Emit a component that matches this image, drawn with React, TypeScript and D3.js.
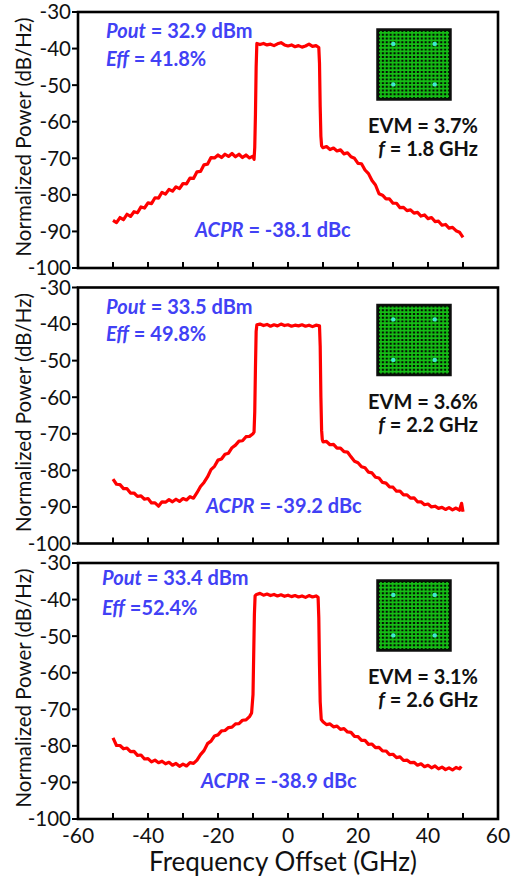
import React from "react";
import * as d3 from "d3";

// ---------- data ----------
const yTicks = [-30, -40, -50, -60, -70, -80, -90, -100];
const xTickLabels = [-60, -40, -20, 0, 20, 40, 60];
const xInnerTicks = [-50, -40, -30, -20, -10, 0, 10, 20, 30, 40, 50];

const spectrum18: [number, number][] = [
  [-50, -87.0], [-49, -87.6], [-48, -86.2], [-47, -86.8], [-46, -85.3], [-45, -85.9], [-44, -84.6], [-43, -84.9],
  [-42, -83.3], [-41, -83.6], [-40, -82.2], [-39, -82.4], [-38, -80.8], [-37, -80.9], [-36, -79.3], [-35, -79.8],
  [-34, -78.5], [-33, -79.0], [-32, -77.8], [-31, -78.3], [-30, -76.9], [-29, -77.0], [-28, -75.4], [-27, -75.5],
  [-26, -73.7], [-25, -73.6], [-24, -71.8], [-23, -71.6], [-22, -69.8], [-21, -69.9], [-20, -69.1], [-19, -69.8],
  [-18, -68.9], [-17, -69.5], [-16, -68.7], [-15, -69.6], [-14, -68.9], [-13, -69.8], [-12, -69.1], [-11, -69.9],
  [-10, -69.4], [-9.7, -70.3], [-9.5, -67], [-9.3, -58], [-9.1, -45], [-8.9, -38.6],
  [-8, -38.9], [-7, -38.6], [-6, -39.0], [-5, -38.8], [-4, -39.2], [-3, -38.7], [-2, -38.4], [-1, -39.0], [0, -39.3],
  [1, -39.0], [2, -39.5], [3, -39.2], [4, -39.6], [5, -39.3], [6, -38.8], [7, -39.4], [8, -39.2], [8.8, -39.7],
  [9.0, -44], [9.2, -56], [9.4, -64], [9.6, -66.6],
  [10, -67.1], [11, -66.8], [12, -67.6], [13, -67.2], [14, -68.0], [15, -67.7], [16, -68.8], [17, -68.5],
  [18, -69.6], [19, -70.0], [20, -71.4], [21, -71.5], [22, -73.2], [23, -74.2], [24, -76.1], [25, -77.3],
  [26, -79.7], [27, -80.1], [28, -81.1], [29, -81.1], [30, -82.3], [31, -82.3], [32, -83.5], [33, -83.4],
  [34, -84.3], [35, -84.1], [36, -85.0], [37, -84.8], [38, -85.8], [39, -85.5], [40, -86.5], [41, -86.2],
  [42, -87.3], [43, -87.2], [44, -88.3], [45, -88.1], [46, -89.1], [47, -88.9], [48, -89.8], [49, -90.2], [50, -91.6],
];

const spectrum22: [number, number][] = [
  [-50, -82.4], [-49, -83.8], [-48, -83.9], [-47, -85.0], [-46, -85.0], [-45, -86.2], [-44, -86.2], [-43, -87.1],
  [-42, -87.0], [-41, -87.9], [-40, -87.7], [-39, -88.9], [-38, -88.9], [-37, -89.8], [-36, -88.6], [-35, -88.7],
  [-34, -88.0], [-33, -88.6], [-32, -87.9], [-31, -88.5], [-30, -87.7], [-29, -88.1], [-28, -87.2], [-27, -87.6],
  [-26, -86.1], [-25, -84.4], [-24, -83.3], [-23, -81.8], [-22, -79.8], [-21, -78.9], [-20, -77.2], [-19, -76.9],
  [-18, -75.6], [-17, -75.3], [-16, -73.8], [-15, -73.1], [-14, -72.0], [-13, -71.9], [-12, -70.8], [-11, -70.7],
  [-10, -70.0], [-9.7, -69.5], [-9.5, -64], [-9.3, -52], [-9.1, -42], [-8.9, -40.2],
  [-8, -40.0], [-7, -40.4], [-6, -40.1], [-5, -40.6], [-4, -40.2], [-3, -40.5], [-2, -40.0], [-1, -40.4], [0, -40.2],
  [1, -40.6], [2, -40.3], [3, -40.5], [4, -40.2], [5, -40.6], [6, -40.3], [7, -40.7], [8, -40.3], [9.0, -40.5],
  [9.2, -46], [9.4, -60], [9.6, -69], [9.8, -71.6],
  [10, -72.2], [11, -72.1], [12, -73.0], [13, -72.9], [14, -73.9], [15, -73.9], [16, -74.9], [17, -75.0],
  [18, -76.3], [19, -77.5], [20, -77.9], [21, -79.0], [22, -79.3], [23, -80.5], [24, -80.7], [25, -81.9],
  [26, -82.1], [27, -83.3], [28, -83.5], [29, -84.5], [30, -84.6], [31, -85.7], [32, -85.7], [33, -86.7],
  [34, -86.7], [35, -87.6], [36, -87.5], [37, -88.6], [38, -88.6], [39, -89.4], [40, -89.2], [41, -90.0],
  [42, -89.8], [43, -90.4], [44, -90.1], [45, -90.7], [46, -90.2], [47, -90.8], [48, -90.3], [49, -90.9],
  [49.6, -89.0], [50, -91.3],
];

const spectrum26: [number, number][] = [
  [-50, -77.8], [-49, -79.9], [-48, -79.9], [-47, -80.8], [-46, -80.6], [-45, -81.6], [-44, -81.5], [-43, -82.6],
  [-42, -82.5], [-41, -83.6], [-40, -83.5], [-39, -84.4], [-38, -83.9], [-37, -84.6], [-36, -84.2], [-35, -84.9],
  [-34, -84.5], [-33, -85.3], [-32, -84.8], [-31, -85.6], [-30, -85.0], [-29, -85.5], [-28, -84.6], [-27, -84.8],
  [-26, -83.9], [-25, -82.4], [-24, -81.3], [-23, -79.4], [-22, -78.7], [-21, -77.3], [-20, -77.0], [-19, -75.9],
  [-18, -75.8], [-17, -75.0], [-16, -74.9], [-15, -74.0], [-14, -73.9], [-13, -73.0], [-12, -72.9], [-11, -72.0],
  [-10.4, -71.0], [-10, -66], [-9.8, -55], [-9.6, -44], [-9.4, -39.0],
  [-9, -38.6], [-8, -38.3], [-7, -38.8], [-6, -38.5], [-5, -38.9], [-4, -38.6], [-3, -39.0], [-2, -38.7], [-1, -39.1],
  [0, -38.8], [1, -39.2], [2, -38.9], [3, -39.3], [4, -39.0], [5, -39.4], [6, -38.9], [7, -39.3], [8, -39.0], [8.6, -39.4],
  [8.8, -45], [9.0, -58], [9.2, -68], [9.5, -72.8],
  [10, -73.4], [11, -74.2], [12, -74.0], [13, -74.8], [14, -74.6], [15, -75.5], [16, -75.3], [17, -76.2],
  [18, -76.3], [19, -77.4], [20, -77.5], [21, -78.5], [22, -78.5], [23, -79.6], [24, -79.5], [25, -80.5],
  [26, -80.4], [27, -81.4], [28, -81.4], [29, -82.4], [30, -82.3], [31, -83.2], [32, -83.0], [33, -84.0],
  [34, -83.9], [35, -84.6], [36, -84.5], [37, -85.3], [38, -84.9], [39, -85.7], [40, -85.3], [41, -86.0],
  [42, -85.5], [43, -86.3], [44, -85.8], [45, -86.5], [46, -86.0], [47, -86.6], [48, -85.9], [49, -86.3], [49.5, -85.6],
];

const spectra = [spectrum18, spectrum22, spectrum26];
const poutLabels = ["32.9 dBm", "33.5 dBm", "33.4 dBm"];
const effLabels = [" = 41.8%", " = 49.8%", " =52.4%"];
const acprLabels = ["-38.1 dBc", "-39.2 dBc", "-38.9 dBc"];
const evmLabels = ["3.7%", "3.6%", "3.1%"];
const freqLabels = ["1.8 GHz", "2.2 GHz", "2.6 GHz"];

// ---------- layout ----------
const W = 511;
const H = 877;
const L = 78;
const R = 498;
const panelTops = [12, 287.5, 563];
const PH = 256;
const poutY = [26, 26, 22];
const effY = [54, 53, 52];
const textX = [106, 106, 102];
const acprX = [195, 206, 201];
const BLUE = "#4141f5";
const FONT = "Lato, 'Open Sans', sans-serif";
const ANN = 20;

const x = d3.scaleLinear().domain([-60, 60]).range([L, R]);

function Constellation({ x0, y0, w, h }: { x0: number; y0: number; w: number; h: number }) {
  const n = 18;
  const vs = d3.range(n).map((i) => x0 + 2 + (i + 0.5) * ((w - 4) / n));
  const hs = d3.range(n).map((i) => y0 + 2 + (i + 0.5) * ((h - 4) / n));
  const dots = [
    [0.22, 0.21], [0.78, 0.21], [0.22, 0.78], [0.78, 0.78],
  ];
  return (
    <g>
      <rect x={x0} y={y0} width={w} height={h} fill="#050f04" stroke="#111" strokeWidth={1.5} />
      {vs.map((vx, i) => (
        <line key={"v" + i} x1={vx} x2={vx} y1={y0 + 2} y2={y0 + h - 2} stroke="#12a812" strokeWidth={2} />
      ))}
      {hs.map((hy, i) => (
        <line key={"h" + i} x1={x0 + 2} x2={x0 + w - 2} y1={hy} y2={hy} stroke="#16bd16" strokeWidth={1.8} />
      ))}
      {dots.map(([fx, fy], i) => (
        <circle key={"d" + i} cx={x0 + fx * w} cy={y0 + fy * h} r={2.2} fill="#3fe8d0" />
      ))}
    </g>
  );
}

function Panel({ idx }: { idx: number }) {
  const top = panelTops[idx];
  const y = d3.scaleLinear().domain([-100, -30]).range([top + PH, top]);
  const line = d3
    .line<[number, number]>()
    .x((d) => x(d[0]))
    .y((d) => y(d[1]));
  return (
    <g>
      <path d={line(spectra[idx]) || ""} fill="none" stroke="#ff0000" strokeWidth={3.2} strokeLinejoin="round" />
      <rect x={L} y={top} width={R - L} height={PH} fill="none" stroke="#000" strokeWidth={2.6} />
      {yTicks.map((t) => (
        <g key={t}>
          <line x1={L - 6} x2={L} y1={y(t)} y2={y(t)} stroke="#000" strokeWidth={2} />
          <text x={L - 7} y={y(t)} dy="0.36em" textAnchor="end" fontSize={20.5} fontFamily={FONT} fill="#111">
            {t}
          </text>
        </g>
      ))}
      {xInnerTicks.map((t) => (
        <line key={t} x1={x(t)} x2={x(t)} y1={top + PH} y2={top + PH - 6} stroke="#000" strokeWidth={2} />
      ))}
      <text
        transform={`translate(${31},${top + PH / 2 - 3}) rotate(-90)`}
        textAnchor="middle"
        fontSize={20.5}
        fontFamily={FONT}
        fill="#111"
      >
        Normalized Power (dB/Hz)
      </text>
      <text x={textX[idx]} y={top + poutY[idx]} fontSize={ANN} fontWeight="bold" fontFamily={FONT} fill={BLUE}>
        <tspan fontStyle="italic">Pout</tspan>
        <tspan>{" = " + poutLabels[idx]}</tspan>
      </text>
      <text x={textX[idx]} y={top + effY[idx]} fontSize={ANN} fontWeight="bold" fontFamily={FONT} fill={BLUE}>
        <tspan fontStyle="italic">Eff</tspan>
        <tspan>{effLabels[idx]}</tspan>
      </text>
      <text x={acprX[idx]} y={top + 225} fontSize={ANN} fontWeight="bold" fontFamily={FONT} fill={BLUE}>
        <tspan fontStyle="italic">ACPR</tspan>
        <tspan>{" = " + acprLabels[idx]}</tspan>
      </text>
      <text x={478} y={top + 121} textAnchor="end" fontSize={ANN} fontWeight="bold" fontFamily={FONT} fill="#111">
        {"EVM = " + evmLabels[idx]}
      </text>
      <text x={478} y={top + 144} textAnchor="end" fontSize={ANN} fontWeight="bold" fontFamily={FONT} fill="#111">
        <tspan fontStyle="italic">f</tspan>
        <tspan>{" = " + freqLabels[idx]}</tspan>
      </text>
      <Constellation x0={377} y0={top + 17} w={74} h={71} />
    </g>
  );
}

export default function App() {
  const bottom = panelTops[2] + PH;
  return (
    <svg width={W} height={H} style={{ position: "absolute", left: 0, top: 0, background: "#fff" }}>
      {[0, 1, 2].map((i) => (
        <Panel key={i} idx={i} />
      ))}
      {xTickLabels.map((t) => (
        <text key={t} x={x(t)} y={bottom + 24} textAnchor="middle" fontSize={21} fontFamily={FONT} fill="#111">
          {t}
        </text>
      ))}
      <text x={(L + R) / 2 - 5} y={bottom + 52} textAnchor="middle" fontSize={26} fontFamily={FONT} fill="#111">
        Frequency Offset (GHz)
      </text>
    </svg>
  );
}
